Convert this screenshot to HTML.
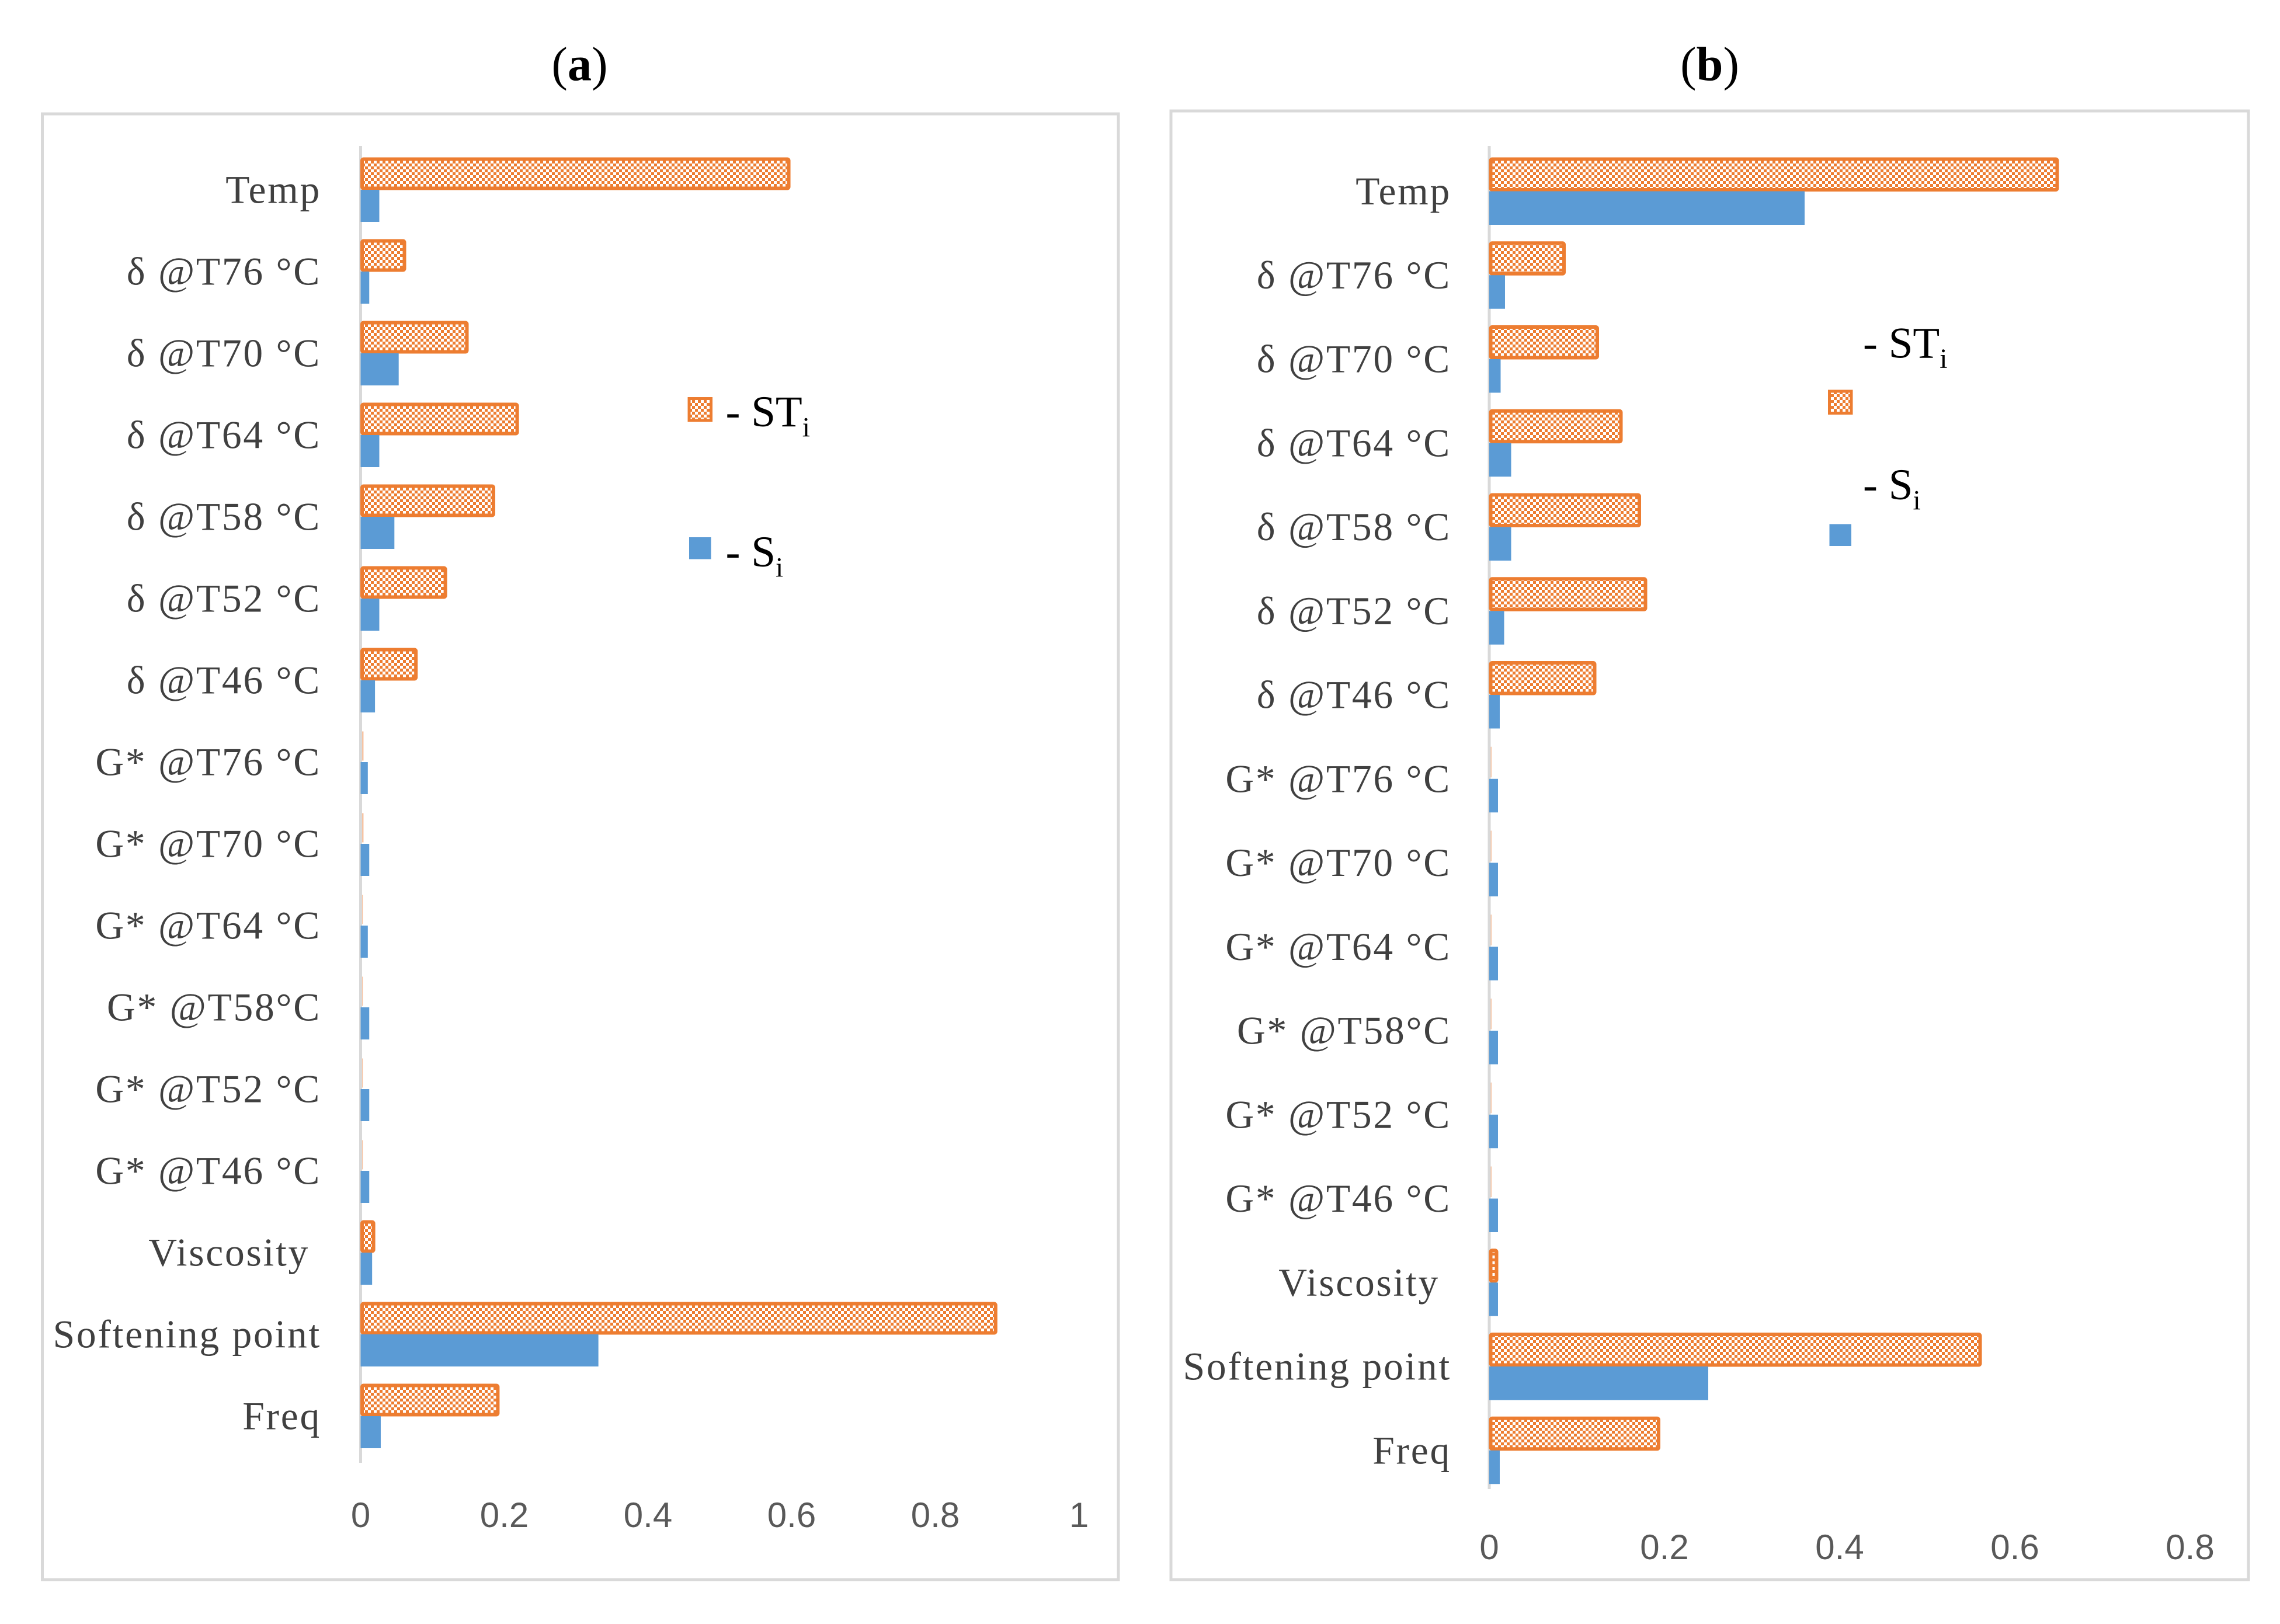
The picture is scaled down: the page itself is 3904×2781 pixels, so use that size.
<!DOCTYPE html>
<html><head><meta charset="utf-8"><style>html,body{margin:0;padding:0;background:#fff}svg{display:block}</style></head>
<body>
<svg id="root" width="3904" height="2781" viewBox="0 0 1561.6 1112.4" xmlns="http://www.w3.org/2000/svg">
<defs>
<pattern id="chk" width="8" height="8" patternUnits="userSpaceOnUse">
<rect width="8" height="8" fill="#fff"/>
<rect x="0" y="0" width="2" height="2" fill="#ed7d31"/><rect x="4" y="0" width="2" height="2" fill="#ed7d31"/>
<rect x="2" y="2" width="2" height="2" fill="#ed7d31"/><rect x="6" y="2" width="2" height="2" fill="#ed7d31"/>
<rect x="0" y="4" width="2" height="2" fill="#ed7d31"/><rect x="4" y="4" width="2" height="2" fill="#ed7d31"/>
<rect x="2" y="6" width="2" height="2" fill="#ed7d31"/><rect x="6" y="6" width="2" height="2" fill="#ed7d31"/>
</pattern>
</defs>
<rect width="1561.6" height="1112.4" fill="#fff"/>
<g id="ga"></g>
<g id="gb"></g>
</svg>
<script>
const categories = ["Temp","δ @T76 °C","δ @T70 °C","δ @T64 °C","δ @T58 °C","δ @T52 °C","δ @T46 °C","G* @T76 °C","G* @T70 °C","G* @T64 °C","G* @T58°C","G* @T52 °C","G* @T46 °C","Viscosity","Softening point","Freq"];
const stA = [0.598,0.063,0.15,0.22,0.187,0.12,0.079,0.002,0.002,0.001,0.001,0.001,0.001,0.02,0.886,0.193];
const sA  = [0.026,0.012,0.053,0.026,0.047,0.026,0.02,0.01,0.012,0.01,0.012,0.012,0.012,0.016,0.331,0.028];
const ticksA = ["0","0.2","0.4","0.6","0.8","1"];
const stB = [0.65,0.087,0.125,0.152,0.173,0.18,0.122,0.001,0.001,0.001,0.001,0.001,0.001,0.01,0.562,0.195];
const sB  = [0.36,0.018,0.013,0.025,0.025,0.017,0.012,0.01,0.01,0.01,0.01,0.01,0.01,0.01,0.25,0.012];
const ticksB = ["0","0.2","0.4","0.6","0.8"];

const NS="http://www.w3.org/2000/svg";
function mk(parent,tag,attrs,text){const e=document.createElementNS(NS,tag);for(const k in attrs)e.setAttribute(k,attrs[k]);if(text!==undefined)e.textContent=text;parent.appendChild(e);return e;}
const serif='"Liberation Serif", serif', sans='"Liberation Sans", sans-serif';

function chart(g,cfg){
  const fr=mk(g,'rect',{x:cfg.fx,y:cfg.fy,width:cfg.fw,height:cfg.fh,fill:'none',stroke:'#d9d9d9','stroke-width':2});
  
  
  const t=mk(g,'text',{x:cfg.tx,y:55,'text-anchor':'middle','font-family':serif,'font-size':33,fill:'#000'});
  
  
  mk(t,'tspan',{},'(');mk(t,'tspan',{'font-weight':'bold'},cfg.label);mk(t,'tspan',{},')');
  const x=v=>cfg.x0+v*cfg.k;
  const y=i=>cfg.y0+i*cfg.dy;
  const ax=mk(g,'line',{x1:cfg.x0,y1:cfg.ay0,x2:cfg.x0,y2:cfg.ay1,stroke:'#d9d9d9','stroke-width':2});
  
  
  cfg.ticks.forEach((tk)=>{
    const tl=mk(g,'text',{x:x(parseFloat(tk)),y:cfg.ty,'text-anchor':'middle','font-family':sans,'font-size':24,fill:'#595959'},tk);
    
    
  });
  categories.forEach((c,i)=>{
    const cy=y(i);
    const off=(c==="Viscosity")?8:0;
    const lb=mk(g,'text',{x:cfg.lx-off,y:cy+9,'text-anchor':'end','font-family':serif,'font-size':27,fill:'#404040','letter-spacing':'1.1'},c);
    
    
    const w1=x(cfg.st[i])-cfg.x0;
    let b1;
    if(w1>=4){
      b1=mk(g,'rect',{x:cfg.x0+1,y:cy-cfg.bh+1,width:w1-2,height:cfg.bh-2,fill:'url(#chk)',stroke:'#ed7d31','stroke-width':2.4,rx:1});
    } else {
      b1=mk(g,'rect',{x:cfg.x0+1,y:cy-cfg.bh+1,width:Math.max(w1,0.3),height:cfg.bh-2,fill:'#f6c3a2'});
    }
    
    
    const b2=mk(g,'rect',{x:cfg.x0,y:cy,width:x(cfg.s[i])-cfg.x0,height:cfg.bh,fill:'#5b9bd5'});
    
    
  });
  cfg.legend(g);
}
function legItem(g,sx,sy,fill,tx,ty,main,name){
  const r=mk(g,'rect',{x:sx,y:sy,width:15,height:15,fill:fill,stroke:fill==='#5b9bd5'?'none':'#ed7d31','stroke-width':2});
  
  
  const t=mk(g,'text',{x:tx,y:ty,'font-family':serif,'font-size':30,fill:'#000'});
  
  
  mk(t,'tspan',{},'- '+main);mk(t,'tspan',{'font-size':19,dy:7},'i');
}
chart(document.getElementById('ga'),{fx:29,fy:78,fw:737,fh:1004,tx:397,label:'a',x0:247,k:492,y0:130,dy:56,bh:22,ay0:100,ay1:1002,ty:1046,lx:220,ticks:ticksA,st:stA,s:sA,
  legend:g=>{legItem(g,472,273,'url(#chk)',497,292,'ST','legend-sti');legItem(g,472,368,'#5b9bd5',497,388,'S','legend-si');}});
chart(document.getElementById('gb'),{fx:802,fy:76,fw:738,fh:1006,tx:1171,label:'b',x0:1020,k:600,y0:131,dy:57.5,bh:23,ay0:100,ay1:1020,ty:1068,lx:994,ticks:ticksB,st:stB,s:sB,
  legend:g=>{legItem(g,1253,268,'url(#chk)',1276,245,'ST','legend-sti');legItem(g,1253,359,'#5b9bd5',1276,342,'S','legend-si');}});
</script>
</body></html>
